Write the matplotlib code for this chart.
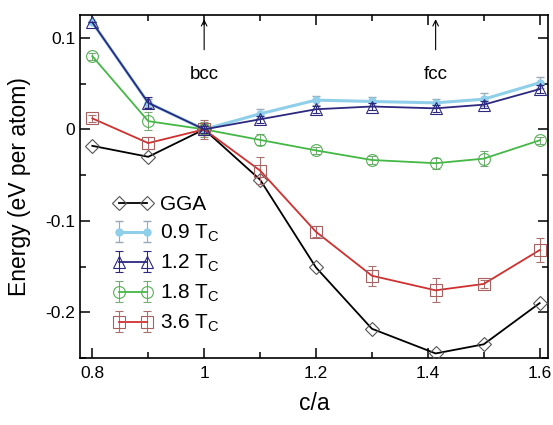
import matplotlib
matplotlib.use('Agg')
import matplotlib.pyplot as plt
from matplotlib.ticker import MultipleLocator

plt.rcParams['font.family'] = ['Liberation Sans', 'DejaVu Sans']
plt.rcParams['mathtext.fontset'] = 'custom'
plt.rcParams['mathtext.rm'] = 'Liberation Sans'
plt.rcParams['mathtext.it'] = 'Liberation Sans:italic'

# c/a ratios (bcc at 1, fcc at sqrt(2))
ca = [0.8, 0.9, 1.0, 1.1, 1.2, 1.3, 1.414, 1.5, 1.6]

gga = [-0.018, -0.030, 0.0, -0.055, -0.151, -0.218, -0.245, -0.235, -0.190]
tc09 = [0.117, 0.029, 0.0, 0.017, 0.032, 0.0305, 0.029, 0.033, 0.051]
tc12 = [0.117, 0.029, 0.0, 0.011, 0.022, 0.025, 0.023, 0.027, 0.044]
tc18 = [0.080, 0.009, 0.0, -0.0115, -0.023, -0.0335, -0.037, -0.032, -0.012]
tc36 = [0.012, -0.015, 0.0, -0.045, -0.112, -0.160, -0.176, -0.169, -0.132]

err09 = [0.0, 0.004, 0.005, 0.005, 0.005, 0.005, 0.004, 0.007, 0.006]
err12 = [0.0, 0.006, 0.004, 0.004, 0.004, 0.004, 0.004, 0.004, 0.004]
err18 = [0.004, 0.010, 0.008, 0.006, 0.004, 0.004, 0.006, 0.008, 0.004]
err36 = [0.004, 0.007, 0.010, 0.015, 0.006, 0.011, 0.013, 0.004, 0.013]

fig = plt.figure(figsize=(5.53, 4.25), dpi=100)
ax = fig.add_axes([0.1447, 0.1576, 0.8463, 0.807])

ms = 8.5
ax.plot(ca, gga, c='black', lw=1.3, marker='D', ms=7, mfc='none', mec='#555555', mew=0.8,
        label='GGA', zorder=3)
ax.errorbar(ca, tc09, yerr=err09, c='#8fcfea', lw=2.2, marker='o', ms=5, mfc='#8fcfea',
            mec='#8fcfea', ecolor='#9aaab8', elinewidth=0.8, capsize=3,
            label=r'0.9 T$_{\rm C}$', zorder=2)
ax.errorbar(ca, tc12, yerr=err12, c='#2c2880', lw=1.3, marker='^', ms=ms, mfc='none',
            mec='#2c2880', mew=0.8, ecolor='#2c2880', elinewidth=0.8, capsize=3,
            label=r'1.2 T$_{\rm C}$', zorder=4)
ax.errorbar(ca, tc18, yerr=err18, c='#44b844', lw=1.3, marker='o', ms=ms, mfc='none',
            mec='#55b055', mew=0.8, ecolor='#77aa77', elinewidth=0.8, capsize=3,
            label=r'1.8 T$_{\rm C}$', zorder=3)
ax.errorbar(ca, tc36, yerr=err36, c='#d03030', lw=1.3, marker='s', ms=ms, mfc='none',
            mec='#a86060', mew=0.8, ecolor='#a87070', elinewidth=0.8, capsize=3,
            label=r'3.6 T$_{\rm C}$', zorder=3)

ax.set_xlim(0.778, 1.615)
ax.set_ylim(-0.25, 0.125)
ax.xaxis.set_minor_locator(MultipleLocator(0.1))
ax.yaxis.set_minor_locator(MultipleLocator(0.05))
ax.set_xticks([0.8, 1.0, 1.2, 1.4, 1.6])
ax.set_xticklabels(['0.8', '1', '1.2', '1.4', '1.6'])
ax.set_yticks([-0.2, -0.1, 0.0, 0.1])
ax.set_yticklabels(['-0.2', '-0.1', '0', '0.1'])
ax.tick_params(which='both', direction='in', top=True, right=True, labelsize=12.5, width=1.1)
ax.tick_params(which='major', length=7)
ax.tick_params(which='minor', length=4)
ax.tick_params(axis='x', pad=6)
for s in ax.spines.values():
    s.set_linewidth(1.2)

ax.set_xlabel('c/a', fontsize=16.5, labelpad=8)
ax.set_ylabel('Energy (eV per atom)', fontsize=16.5, labelpad=10)

ax.annotate('', xy=(1.0, 0.1235), xytext=(1.0, 0.084),
            arrowprops=dict(arrowstyle='->', lw=0.8, color='black'))
ax.text(1.0, 0.06, 'bcc', ha='center', va='center', fontsize=13.5)
ax.annotate('', xy=(1.414, 0.1235), xytext=(1.414, 0.084),
            arrowprops=dict(arrowstyle='->', lw=0.8, color='black'))
ax.text(1.414, 0.06, 'fcc', ha='center', va='center', fontsize=13.5)

ax.legend(loc='upper left', bbox_to_anchor=(0.071, 0.475), frameon=False, fontsize=15,
          numpoints=2, handlelength=1.9, handletextpad=0.35, labelspacing=0.42,
          borderaxespad=0, borderpad=0)

fig.savefig('out.png', dpi=100)
plt.close(fig)
